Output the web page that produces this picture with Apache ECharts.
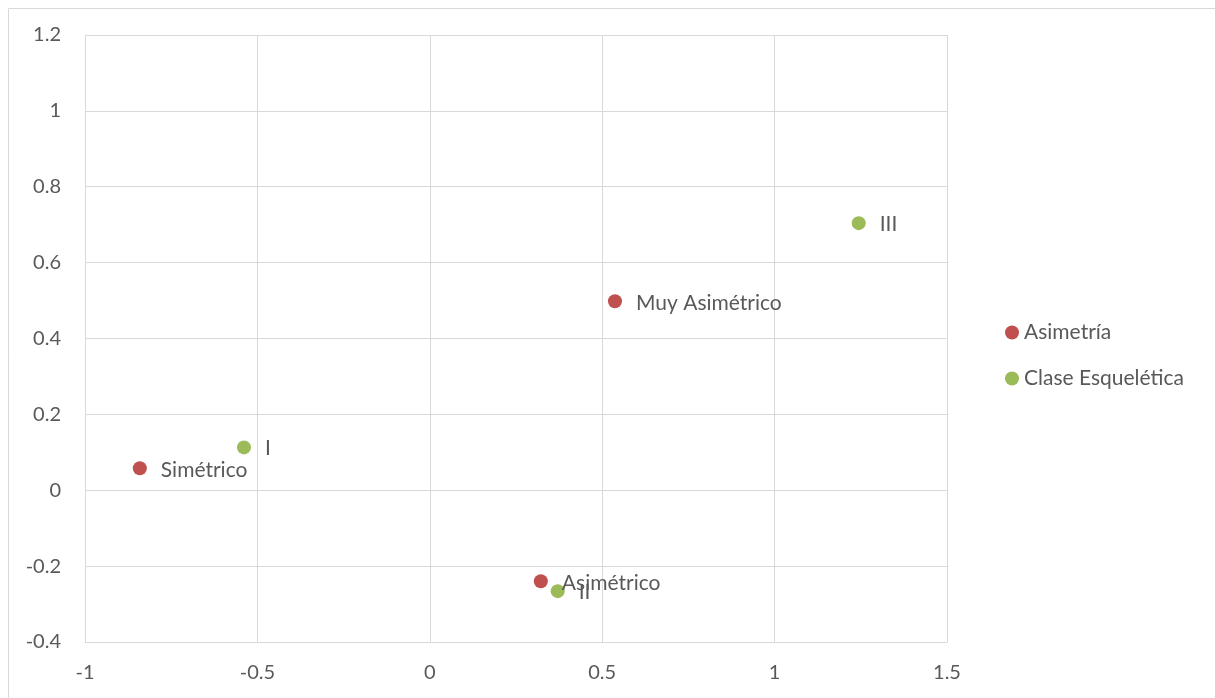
<!DOCTYPE html>
<html><head><meta charset="utf-8">
<script src="https://cdn.jsdelivr.net/npm/echarts@6/dist/echarts.min.js"></script>
<style>html,body{margin:0;padding:0;background:#fff}#c{width:1215px;height:698px}</style>
</head><body><div id="c"></div>
<script>
const asimNames = ['Simétrico', 'Muy Asimétrico', 'Asimétrico'];
const asimX = [-0.841, 0.537, 0.322];
const asimY = [0.058, 0.498, -0.240];
const claseNames = ['I', 'II', 'III'];
const claseX = [-0.539, 0.371, 1.244];
const claseY = [0.113, -0.266, 0.704];
const xTicks = {min: -1, max: 1.5, interval: 0.5};
const yTicks = {min: -0.4, max: 1.2, interval: 0.2};

const font = 'Lato';
const txt = '#595959';
const gridCol = '#d9d9d9';
function pts(xs, ys, ns){ return xs.map((x,i)=>({value:[x, ys[i]], name: ns[i]})); }
const chart = echarts.init(document.getElementById('c'), null, {renderer:'canvas'});
chart.setOption({
  animation:false,
  graphic:[{type:'rect', left:6, top:6, shape:{width:1230, height:720}, style:{fill:null, stroke:gridCol, lineWidth:1}, silent:true, z:-1}],
  grid:{left:85, right:268, top:35, bottom:56},
  xAxis:{type:'value', min:xTicks.min, max:xTicks.max, interval:xTicks.interval,
    axisLine:{show:true, onZero:false, lineStyle:{color:gridCol}}, axisTick:{show:false},
    splitLine:{show:true, lineStyle:{color:gridCol}},
    axisLabel:{color:txt, fontFamily:font, fontSize:20, margin:21}},
  yAxis:{type:'value', min:yTicks.min, max:yTicks.max, interval:yTicks.interval,
    axisLine:{show:true, onZero:false, lineStyle:{color:gridCol}}, axisTick:{show:false},
    splitLine:{show:true, lineStyle:{color:gridCol}},
    axisLabel:{color:txt, fontFamily:font, fontSize:20, margin:24, formatter: v => String(Math.round(v*10)/10)}},
  legend:{orient:'vertical', left:1005, top:322, padding:0, itemGap:25, itemWidth:14, itemHeight:14, icon:'circle',
    textStyle:{color:txt, fontFamily:font, fontSize:21}, data:['Asimetría','Clase Esquelética']},
  series:[
    {name:'Asimetría', type:'scatter', symbolSize:14, itemStyle:{color:'#C0504D', opacity:1},
     data: pts(asimX, asimY, asimNames),
     label:{show:true, position:'right', distance:14, formatter: p=>p.name, color:txt, fontFamily:font, fontSize:21, offset:[0,2]}},
    {name:'Clase Esquelética', type:'scatter', symbolSize:14, itemStyle:{color:'#9BBB59', opacity:1},
     data: pts(claseX, claseY, claseNames),
     label:{show:true, position:'right', distance:14, formatter: p=>p.name, color:txt, fontFamily:font, fontSize:21, offset:[0,1]}}
  ]
});
</script></body></html>
